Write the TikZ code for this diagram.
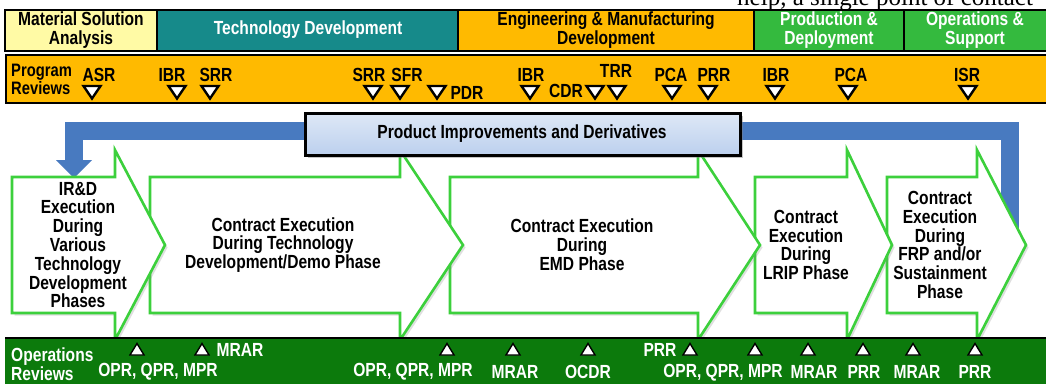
\documentclass[tikz,border=0pt]{standalone}
\usepackage{fontspec}
\IfFontExistsTF{Liberation Sans Narrow}{\setmainfont{Liberation Sans Narrow}}{\setmainfont{Liberation Sans}[FakeStretch=0.82]}
\newfontfamily\serifpart{Liberation Serif}
\usetikzlibrary{shadows}
\definecolor{msacol}{RGB}{255,250,165}
\definecolor{tdcol}{RGB}{22,138,138}
\definecolor{goldcol}{RGB}{255,186,0}
\definecolor{pdcol}{RGB}{52,186,62}
\definecolor{opscol}{RGB}{12,122,12}
\definecolor{chevcol}{RGB}{60,208,60}
\definecolor{bandcol}{RGB}{72,122,192}
\definecolor{pitop}{RGB}{222,232,246}
\definecolor{pibot}{RGB}{188,208,238}
\newcommand\chevshape[4]{%
  \draw[chevstyle] (#1,177) -- (#2,177) -- (#2,150) -- (#3,245) -- (#2,340) -- (#2,313) -- (#1,313) -- cycle;
  \node[chevtext] (#4) at ({(#1+#3)/2+2},245) {};}
\newcommand\dtri[1]{\draw[dtristyle] (#1-8.5,86) -- (#1+8.5,86) -- (#1,98.5) -- cycle;}
\newcommand\utri[1]{\draw[utristyle] (#1-7,355) -- (#1+7,355) -- (#1,343.5) -- cycle;}
\begin{document}
\begin{tikzpicture}[x=1pt,y=-1pt,
  chevstyle/.style={draw=chevcol,line width=2.6pt,fill=white,line join=miter,
     drop shadow={shadow xshift=2.5pt,shadow yshift=-2.5pt,opacity=0.25}},
  chevtext/.style={align=center,font=\bfseries\fontsize{19}{18.8}\selectfont,inner sep=0pt},
  phasetext/.style={align=center,font=\bfseries\fontsize{19}{19}\selectfont,inner sep=0pt},
  revlabel/.style={font=\bfseries\fontsize{19}{19}\selectfont,inner sep=0pt},
  opslabel/.style={font=\bfseries\fontsize{19}{19}\selectfont,inner sep=0pt,text=white},
  dtristyle/.style={draw=black,fill=white,line width=2.4pt,line join=miter},
  utristyle/.style={draw=black,fill=white,line width=1.4pt,line join=miter},
  barline/.style={draw=black,line width=2pt}]
\useasboundingbox (0,0) rectangle (1046,383);
\clip (0,0) rectangle (1046,383);
\fill[white] (0,0) rectangle (1046,383);
% clipped text line above
\node[anchor=base west,inner sep=0pt,font=\serifpart\fontsize{25}{25}\selectfont] (toptext) at (737,5) {help, a single point of contact};
% phase bar
\fill[msacol] (5,10) rectangle (157,51);
\fill[tdcol] (157,10) rectangle (458,51);
\fill[goldcol] (458,10) rectangle (754,51);
\fill[pdcol] (754,10) rectangle (904,51);
\fill[pdcol] (904,10) rectangle (1050,51);
\draw[barline] (5,10) rectangle (1052,51);
\draw[barline] (157,10) -- (157,51) (458,10) -- (458,51) (754,10) -- (754,51) (904,10) -- (904,51);
\node[phasetext] (msa) at (81,30) {Material Solution\\Analysis};
\node[phasetext,text=white] (td) at (308,30) {Technology Development};
\node[phasetext] (emd) at (606,30) {Engineering \& Manufacturing\\Development};
\node[phasetext,text=white] (pd) at (829,30) {Production \&\\Deployment};
\node[phasetext,text=white] (os) at (975,30) {Operations \&\\Support};
% program reviews bar
\fill[goldcol] (6,55) rectangle (1052,103);
\draw[barline] (6,55) rectangle (1052,103);
\node[align=left,anchor=west,inner sep=0pt,font=\bfseries\fontsize{18}{18.5}\selectfont] (prog) at (11,79.5) {Program\\Reviews};
\foreach \x in {92,177,210,373,400,437,530,595,617,672,708,775,848,968} {\dtri{\x}}
\node[revlabel] (asr) at (99,75) {ASR};
\node[revlabel] (ibr1) at (172,75) {IBR};
\node[revlabel] (srr1) at (216,75) {SRR};
\node[revlabel] (srr2) at (369,75) {SRR};
\node[revlabel] (sfr) at (407,75) {SFR};
\node[revlabel] (pdr) at (467,93) {PDR};
\node[revlabel] (ibr2) at (531,75) {IBR};
\node[revlabel] (cdr) at (566,91) {CDR};
\node[revlabel] (trr) at (616,71) {TRR};
\node[revlabel] (pca1) at (671,75) {PCA};
\node[revlabel] (prr1) at (714,75) {PRR};
\node[revlabel] (ibr3) at (776,75) {IBR};
\node[revlabel] (pca2) at (851,75) {PCA};
\node[revlabel] (isr) at (967,75) {ISR};
% blue feedback band
\draw[bandcol,line width=18pt,line join=miter] (1010,245) -- (1010,131) -- (74,131) -- (74,161);
\fill[bandcol] (56,160) -- (92,160) -- (74,178) -- cycle;
% chevrons (right to left so that heads overlap)
\chevshape{887}{977}{1026}{c5}
\chevshape{755}{847}{892}{c4}
\chevshape{450}{698}{760}{c3}
\chevshape{150}{400}{463}{c2}
\chevshape{12}{115}{165}{c1}
\node[chevtext] (c1t) at (78,245) {IR\&D\\Execution\\During\\Various\\Technology\\Development\\Phases};
\node[chevtext] (c2t) at (283,245) {Contract Execution\\During Technology\\Development/Demo Phase};
\node[chevtext] (c3t) at (582,245) {Contract Execution\\During\\EMD Phase};
\node[chevtext] (c4t) at (806,245) {Contract\\Execution\\During\\LRIP Phase};
\node[chevtext] (c5t) at (940,245) {Contract\\Execution\\During\\FRP and/or\\Sustainment\\Phase};
% product improvements box
\path[top color=pitop,bottom color=pibot,draw=black,line width=3pt,
  drop shadow={shadow xshift=3pt,shadow yshift=-3pt,opacity=0.45}] (305,113) rectangle (740,155);
\node[font=\bfseries\fontsize{19}{19}\selectfont,inner sep=0pt] (pid) at (522,134) {Product Improvements and Derivatives};
% operations reviews bar
\fill[opscol] (5,338) rectangle (1052,390);
\draw[black,line width=2pt] (5,338) -- (1052,338);
\node[align=left,anchor=west,inner sep=0pt,text=white,font=\bfseries\fontsize{19}{18.5}\selectfont] (ops) at (11,364) {Operations\\Reviews};
\foreach \x in {137,202,447,513,588,690,755,808,863,913,975} {\utri{\x}}
\node[opslabel] (o1) at (158,372) {OPR, QPR, MPR};
\node[opslabel] (o2) at (240,350) {MRAR};
\node[opslabel] (o3) at (413,372) {OPR, QPR, MPR};
\node[opslabel] (o4) at (515,372) {MRAR};
\node[opslabel] (o5) at (588,372) {OCDR};
\node[opslabel] (o6) at (660,350) {PRR};
\node[opslabel] (o7) at (723,373) {OPR, QPR, MPR};
\node[opslabel] (o8) at (814,372) {MRAR};
\node[opslabel] (o9) at (864,372) {PRR};
\node[opslabel] (o10) at (917,372) {MRAR};
\node[opslabel] (o11) at (975,372) {PRR};
\end{tikzpicture}
\end{document}
